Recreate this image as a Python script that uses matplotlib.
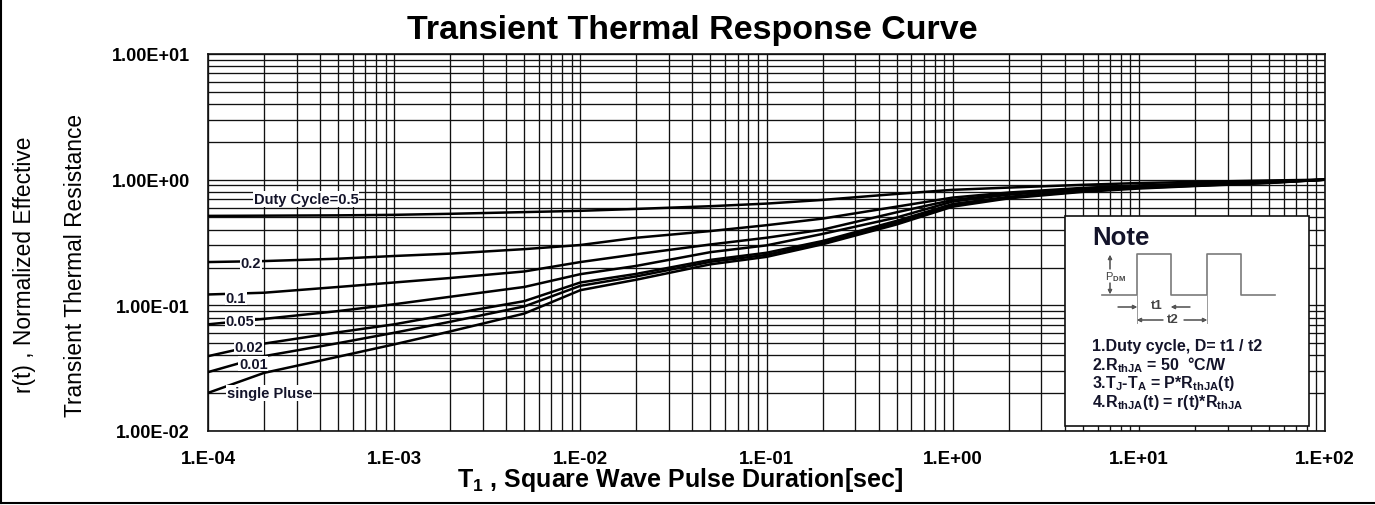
import numpy as np
import matplotlib
import matplotlib.pyplot as plt
from matplotlib.lines import Line2D
from matplotlib.patches import Rectangle
from matplotlib.ticker import LogLocator, FuncFormatter, NullFormatter

matplotlib.use('Agg')

plt.rcParams['font.family'] = ['Liberation Sans', 'DejaVu Sans']
plt.rcParams['mathtext.fontset'] = 'custom'
plt.rcParams['mathtext.rm'] = 'Liberation Sans:bold'
plt.rcParams['mathtext.it'] = 'Liberation Sans:bold'
plt.rcParams['mathtext.bf'] = 'Liberation Sans:bold'

# --- data ---
T_PULSE = [1e-4, 2e-4, 5e-4, 1e-3, 2e-3, 5e-3, 1e-2, 2e-2, 5e-2, 1e-1,
           2e-1, 5e-1, 1, 2, 5, 10, 20, 50, 100]

R_D050 = [.515, .517, .520, .525, .535, .552, .565, .585, .615, .645,
          .690, .770, .830, .865, .910, .940, .960, .985, 1.0]
R_D020 = [.221, .225, .235, .247, .258, .280, .302, .345, .390, .434,
          .490, .610, .720, .790, .860, .900, .930, .970, 1.0]
R_D010 = [.122, .126, .140, .152, .165, .186, .221, .255, .305, .345,
          .400, .550, .690, .770, .850, .890, .920, .960, 1.0]
R_D005 = [.0706, .078, .090, .102, .117, .140, .177, .206, .265, .300,
          .370, .500, .670, .760, .840, .880, .910, .955, 1.0]
R_D002 = [.0394, .0496, .061, .0706, .085, .108, .152, .178, .230, .262,
          .325, .470, .640, .730, .820, .870, .900, .950, 1.0]
R_D001 = [.0294, .0394, .050, .0605, .074, .098, .143, .170, .222, .252,
          .316, .455, .625, .720, .810, .860, .895, .945, 1.0]
R_SINGLE = [.0201, .029, .039, .0489, .062, .086, .132, .160, .212, .243,
            .306, .440, .610, .710, .800, .850, .890, .940, 1.0]

CURVES = [R_D050, R_D020, R_D010, R_D005, R_D002, R_D001, R_SINGLE]
LABELS = ['Duty Cycle=0.5', '0.2', '0.1', '0.05', '0.02', '0.01', 'single Pluse']
LABEL_XY = [(3.36e-4, 0.70), (1.70e-4, 0.216), (1.41e-4, 0.115),
            (1.48e-4, 0.075), (1.66e-4, 0.0469), (1.75e-4, 0.0343),
            (2.14e-4, 0.0201)]

X_TICKS = [1e-4, 1e-3, 1e-2, 1e-1, 1e0, 1e1, 1e2]
Y_TICKS = [1e-2, 1e-1, 1e0, 1e1]

NOTES = ['1.Duty cycle, D= t1 / t2',
         r'2.R$_{thJA}$ = 50  °C/W',
         r'3.T$_J$-T$_A$ = P*R$_{thJA}$(t)',
         r'4.R$_{thJA}$(t) = r(t)*R$_{thJA}$']

W, H = 1375, 506
TXT = '#14142a'


def px(x, y):
    """pixel position -> figure fraction"""
    return x / W, 1 - y / H


fig = plt.figure(figsize=(W / 100, H / 100), dpi=100)
ax = fig.add_axes([208 / W, 1 - 432 / H, (1325 - 208) / W, (432 - 55) / H])
ax.set_xscale('log')
ax.set_yscale('log')
ax.set_xlim(1e-4, 1e2)
ax.set_ylim(1e-2, 1e1)

ax.xaxis.set_minor_locator(LogLocator(base=10, subs=np.arange(2, 10), numticks=20))
ax.yaxis.set_minor_locator(LogLocator(base=10, subs=np.arange(2, 10), numticks=20))
ax.set_xticks(X_TICKS)
ax.set_yticks(Y_TICKS)
ax.xaxis.set_major_formatter(FuncFormatter(lambda v, p: f'{v:.0E}'.replace('E', '.E')))
ax.yaxis.set_major_formatter(FuncFormatter(lambda v, p: f'{v:.2E}'))
ax.xaxis.set_minor_formatter(NullFormatter())
ax.yaxis.set_minor_formatter(NullFormatter())
ax.tick_params(which='both', length=0)
ax.tick_params(axis='x', pad=14, labelsize=13.5)
ax.tick_params(axis='y', pad=13, labelsize=13)
for lab in ax.get_xticklabels() + ax.get_yticklabels():
    lab.set_fontweight('bold')

ax.grid(True, which='both', color='#111111', lw=0.95)
ax.set_axisbelow(True)
for s in ax.spines.values():
    s.set_color('#111111')
    s.set_linewidth(1.2)

for r in CURVES:
    ax.plot(T_PULSE, r, color='black', lw=1.8, zorder=3)

for lab, (lx, ly) in zip(LABELS, LABEL_XY):
    ax.text(lx, ly, lab, ha='center', va='center', fontsize=10.5,
            fontweight='bold', color=TXT, zorder=5,
            bbox=dict(fc='white', ec='none', pad=0.5))

# note box
ax.add_patch(Rectangle((0.767, 0.012), 0.219, 0.558, transform=ax.transAxes,
                       fc='white', ec='#111111', lw=1.2, zorder=4))

fig.text(*px(1092, 238), 'Note', fontsize=18.5, fontweight='bold',
         color=TXT, va='center', ha='left', zorder=6)

# square wave sketch
wave_x = [1102, 1137, 1137, 1171, 1171, 1207, 1207, 1241, 1241, 1275]
wave_y = [296, 296, 255, 255, 296, 296, 255, 255, 296, 296]
wx, wy = zip(*[px(a, b) for a, b in zip(wave_x, wave_y)])
fig.add_artist(Line2D(wx, wy, color='#7a7a7a', lw=1.2, zorder=6))
for xe in (1137, 1207):
    ex, ey = zip(px(xe, 296), px(xe, 324))
    fig.add_artist(Line2D(ex, ey, color='#9a9a9a', lw=0.7, zorder=6))

arrow = dict(arrowstyle='-|>', color='#555555', lw=0.8,
             mutation_scale=6, shrinkA=0, shrinkB=0)
ann = dict(xycoords='figure fraction', textcoords='figure fraction',
           arrowprops=arrow, zorder=7)
fig.add_artist(ax.annotate('', xy=px(1110, 256), xytext=px(1110, 270), **ann))
fig.add_artist(ax.annotate('', xy=px(1110, 295), xytext=px(1110, 284), **ann))
fig.text(*px(1105, 277), r'P$_{DM}$', fontsize=8, color='#444444',
         va='center', ha='left', zorder=7)

fig.add_artist(ax.annotate('', xy=px(1137, 308), xytext=px(1118, 308), **ann))
fig.add_artist(ax.annotate('', xy=px(1171, 308), xytext=px(1190, 308), **ann))
fig.text(*px(1157, 306), 't1', fontsize=9.5, fontweight='bold',
         color='#444444', va='center', ha='center', zorder=7)

fig.add_artist(ax.annotate('', xy=px(1137, 321), xytext=px(1163, 321), **ann))
fig.add_artist(ax.annotate('', xy=px(1207, 321), xytext=px(1184, 321), **ann))
fig.text(*px(1173, 320), 't2', fontsize=9.5, fontweight='bold',
         color='#444444', va='center', ha='center', zorder=7)

for i, line in enumerate(NOTES):
    fig.text(*px(1092, 347 + 18.5 * i), line, fontsize=11.5, fontweight='bold',
             color=TXT, va='center', ha='left', zorder=7)

# titles and axis labels
fig.text(692 / W, 1 - 30 / H, 'Transient Thermal Response Curve',
         fontsize=24.5, fontweight='bold', ha='center', va='center')
fig.text(680 / W, 1 - 480 / H, r'T$_1$ , Square Wave Pulse Duration[sec]',
         fontsize=18, fontweight='bold', ha='center', va='center')
fig.text(25 / W, 1 - 265 / H, 'r(t) , Normalized Effective', fontsize=16.4,
         rotation=90, ha='center', va='center')
fig.text(76 / W, 1 - 265 / H, 'Transient Thermal Resistance', fontsize=16.4,
         rotation=90, ha='center', va='center')

# outer frame (left and bottom edges visible in the scan)
fig.add_artist(Line2D([0.0008, 0.0008], [0.003, 1], color='black', lw=1.5))
fig.add_artist(Line2D([0.0008, 1], [0.003, 0.003], color='black', lw=1.5))

fig.savefig('out.png', dpi=100)
